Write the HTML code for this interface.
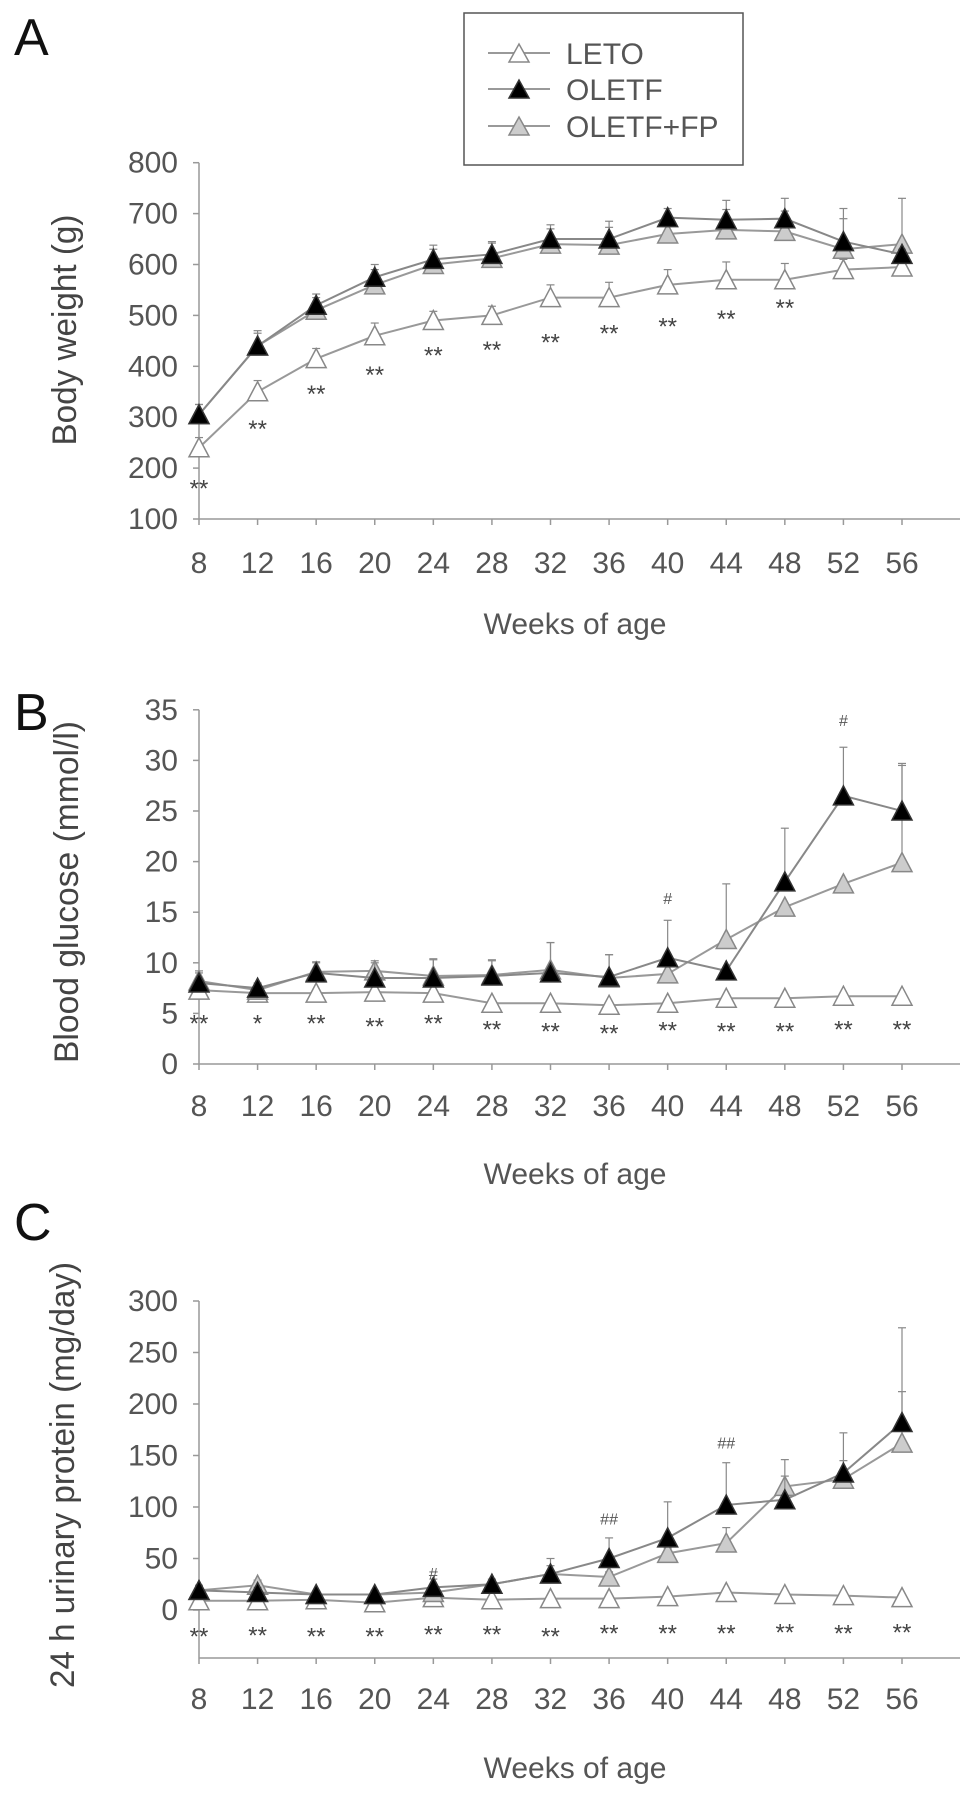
<!DOCTYPE html>
<html><head><meta charset="utf-8"><style>
html,body{margin:0;padding:0;background:#fff;}
svg{display:block;font-family:"Liberation Sans",Arial,sans-serif;}
</style></head><body>
<svg id="fig" width="969" height="1794" viewBox="0 0 969 1794">
<g>
<rect x="464" y="13" width="279" height="152" fill="#fff" stroke="#555" stroke-width="1.5"/>
<g><line x1="488" y1="53" x2="550" y2="53" stroke="#999" stroke-width="2"/><polygon points="509,62 529,62 519,44" fill="#fff" stroke="#888" stroke-width="1.5"/><text x="566" y="64" font-size="30" fill="#555">LETO</text></g>
<g><line x1="488" y1="89" x2="550" y2="89" stroke="#999" stroke-width="2"/><polygon points="509,98 529,98 519,80" fill="#000" stroke="#333" stroke-width="1.5"/><text x="566" y="100" font-size="30" fill="#555">OLETF</text></g>
<g><line x1="488" y1="126" x2="550" y2="126" stroke="#999" stroke-width="2"/><polygon points="509,135 529,135 519,117" fill="#ccc" stroke="#888" stroke-width="1.5"/><text x="566" y="137" font-size="30" fill="#555">OLETF+FP</text></g>
</g>
</svg>
<script>
const weeks = [8,12,16,20,24,28,32,36,40,44,48,52,56];
// Panel A: body weight
const aLeto  = [240,350,415,460,490,500,535,535,560,570,570,590,595];
const aLetoErr = [20,22,20,25,18,18,25,30,30,35,32,20,0];
const aOletf = [305,440,520,575,610,620,650,650,692,688,690,645,620];
const aOletfErr = [20,30,22,25,28,25,28,35,18,38,40,65,10];
const aFp    = [305,440,510,560,600,612,640,638,660,668,665,630,640];
const aFpErr = [20,25,25,30,30,30,30,35,28,40,40,60,90];
const aStars = [172,289,357,395,433,444,459,476,490,505,526,null,null];
const aTicks = [100,200,300,400,500,600,700,800];
// Panel B: blood glucose
const bLeto  = [7.3,7.0,7.0,7.1,7.0,6.0,6.0,5.8,6.0,6.5,6.5,6.7,6.7];
const bLetoErr = [0,0,0,0,0,0,0,0,0,0,0,0,0];
const bOletf = [8.0,7.5,9.0,8.5,8.5,8.7,9.0,8.6,10.5,9.2,18.0,26.5,25.0];
const bOletfErr = [1,0.5,1,1.5,1.8,1.5,3,2.2,3.7,0,5.3,4.8,4.7];
const bFp    = [8.2,7.3,9.1,9.2,8.7,8.8,9.3,8.5,8.9,12.3,15.5,17.8,19.9];
const bFpErr = [1,0.5,1,1,1.7,1.5,2.7,2.3,1,5.5,0,0,9.6];
const bStars = [4.6,4.6,4.6,4.3,4.6,4.0,3.8,3.6,3.9,3.8,3.8,4.0,4.0];
const bStarLabels = ['**','*','**','**','**','**','**','**','**','**','**','**','**'];
const bTicks = [0,5,10,15,20,25,30,35];
// Panel C: urinary protein
const cLeto  = [9,9,10,7,12,10,11,11,13,17,15,14,12];
const cLetoErr = [0,0,0,0,0,0,0,0,0,0,0,0,0];
const cOletf = [19,17,15,15,22,25,35,50,70,102,107,133,182];
const cOletfErr = [5,5,3,4,8,5,8,20,35,41,23,39,92];
const cFp    = [19,24,15,15,17,25,35,32,55,65,120,127,162];
const cFpErr = [5,5,3,4,5,5,15,5,5,15,26,18,50];
const cStars = [-20,-19,-20,-20,-18,-18,-20,-17,-17,-17,-16,-17,-16];
const cTicks = [0,50,100,150,200,250,300];

const NS = 'http://www.w3.org/2000/svg';
const svg = document.getElementById('fig');
function mk(tag, attrs, parent){ const e=document.createElementNS(NS,tag); for(const k in attrs) e.setAttribute(k,attrs[k]); (parent||svg).appendChild(e); return e; }
function xs(w){ return 199 + (w-8)*(703/48); }

function panel(cfg){
  const g = mk('g',{});
  
  
  const ys = v => cfg.y0 - (v - cfg.v0) * cfg.ppu;
  const L = mk('text',{x:14,y:cfg.letterY,'font-size':52,fill:'#111'},g); L.textContent=cfg.letter;
  
  
  const ya = mk('line',{x1:199,y1:ys(cfg.ticks[cfg.ticks.length-1]),x2:199,y2:cfg.axisY,stroke:'#999','stroke-width':1.5},g);
  
  
  const xa = mk('line',{x1:199,y1:cfg.axisY,x2:960,y2:cfg.axisY,stroke:'#999','stroke-width':1.5},g);
  
  
  cfg.ticks.forEach(t=>{
    mk('line',{x1:193,y1:ys(t),x2:199,y2:ys(t),stroke:'#999','stroke-width':1.5},g);
    const tx = mk('text',{x:178,y:ys(t)+10,'font-size':30,fill:'#555','text-anchor':'end'},g); tx.textContent=t;
    
    
  });
  weeks.forEach(w=>{
    mk('line',{x1:xs(w),y1:cfg.axisY,x2:xs(w),y2:cfg.axisY+6,stroke:'#999','stroke-width':1.5},g);
    const tx = mk('text',{x:xs(w),y:cfg.tickLabelY+11,'font-size':30,fill:'#555','text-anchor':'middle'},g); tx.textContent=w;
    
    
  });
  const xt = mk('text',{x:575,y:cfg.xTitleY+11,'font-size':30,fill:'#555','text-anchor':'middle'},g); xt.textContent='Weeks of age';
  
  
  const yt = mk('text',{x:0,y:0,'font-size':34,fill:'#444','text-anchor':'middle',transform:`translate(${cfg.yTitleX+12},${cfg.yTitleY}) rotate(-90)`,textLength:cfg.yTitleLen,lengthAdjust:'spacingAndGlyphs'},g); yt.textContent=cfg.yTitle;
  
  
  const series = [
    {n:'leto',v:cfg.leto,e:cfg.letoErr,fill:'#fff',stroke:'#888',line:'#999'},
    {n:'oletf-fp',v:cfg.fp,e:cfg.fpErr,fill:'#ccc',stroke:'#888',line:'#999'},
    {n:'oletf',v:cfg.oletf,e:cfg.oletfErr,fill:'#000',stroke:'#333',line:'#888'}
  ];
  series.forEach(s=>{
    const sg = mk('g',{},g);
    
    
    weeks.forEach((w,i)=>{ if(s.e[i]>0){
      const x=xs(w), y1=ys(s.v[i]), y2=ys(s.v[i]+s.e[i]);
      mk('line',{x1:x,y1:y1,x2:x,y2:y2,stroke:'#888','stroke-width':1.2},sg);
      mk('line',{x1:x-4,y1:y2,x2:x+4,y2:y2,stroke:'#888','stroke-width':1.2},sg);
    }});
    const pts = weeks.map((w,i)=>xs(w)+','+ys(s.v[i])).join(' ');
    const pl = mk('polyline',{points:pts,fill:'none',stroke:s.line,'stroke-width':2},sg);
    
    
    weeks.forEach((w,i)=>{
      const x=xs(w), y=ys(s.v[i]);
      const p = mk('polygon',{points:`${x-10},${y+9} ${x+10},${y+9} ${x},${y-10}`,fill:s.fill,stroke:s.stroke,'stroke-width':1.5},sg);
      
      
    });
  });
  cfg.stars.forEach((v,i)=>{ if(v!==null){
    const t = mk('text',{x:xs(weeks[i]),y:ys(v)+14,'font-size':24,fill:'#444','text-anchor':'middle'},g);
    t.textContent = cfg.starLabels ? cfg.starLabels[i] : '**';
    
    
  }});
  (cfg.hashes||[]).forEach(h=>{
    const t = mk('text',{x:xs(h[0]),y:ys(h[1]),'font-size':16,fill:'#555','text-anchor':'middle'},g);
    t.textContent = h[2];
    
    
  });
}

panel({name:'panel-a-body-weight',letter:'A',letterY:55,v0:100,y0:519,ppu:50.9/100,axisY:519,ticks:aTicks,
  tickLabelY:562,xTitleY:623,yTitle:'Body weight (g)',yTitleX:64,yTitleY:330,yTitleLen:231,
  leto:aLeto,letoErr:aLetoErr,oletf:aOletf,oletfErr:aOletfErr,fp:aFp,fpErr:aFpErr,stars:aStars});
panel({name:'panel-b-blood-glucose',letter:'B',letterY:730,v0:0,y0:1064,ppu:50.6/5,axisY:1064,ticks:bTicks,
  tickLabelY:1105,xTitleY:1173,yTitle:'Blood glucose (mmol/l)',yTitleX:66,yTitleY:892,yTitleLen:342,
  leto:bLeto,letoErr:bLetoErr,oletf:bOletf,oletfErr:bOletfErr,fp:bFp,fpErr:bFpErr,stars:bStars,starLabels:bStarLabels,
  hashes:[[40,15.8,'#'],[52,33.4,'#']]});
panel({name:'panel-c-urinary-protein',letter:'C',letterY:1240,v0:0,y0:1610,ppu:51.5/50,axisY:1658,ticks:cTicks,
  tickLabelY:1698,xTitleY:1767,yTitle:'24 h urinary protein (mg/day)',yTitleX:62,yTitleY:1475,yTitleLen:426,
  leto:cLeto,letoErr:cLetoErr,oletf:cOletf,oletfErr:cOletfErr,fp:cFp,fpErr:cFpErr,stars:cStars,
  hashes:[[24,30,'#'],[36,83,'##'],[44,157,'##']]});
</script>
</body></html>
